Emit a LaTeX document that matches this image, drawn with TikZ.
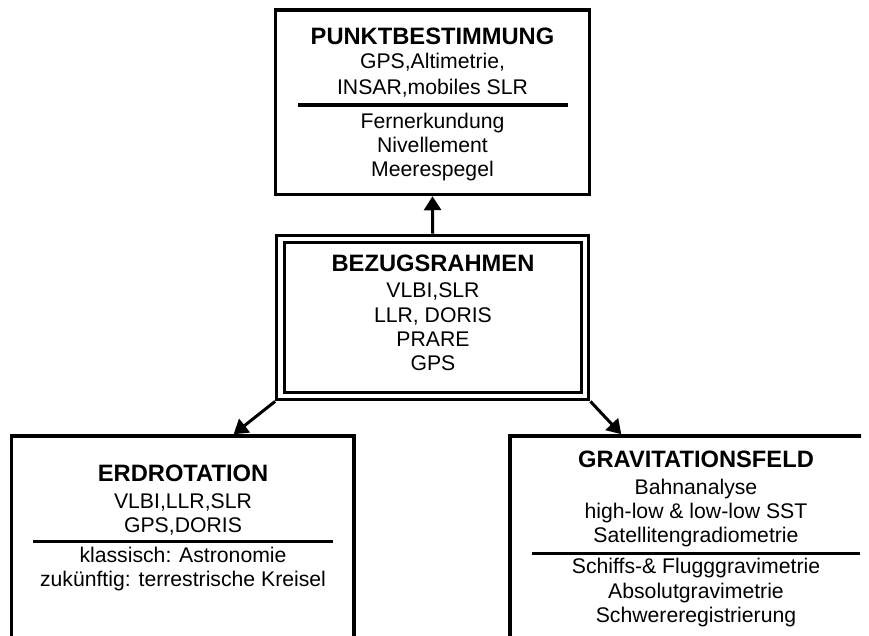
\documentclass[tikz,border=0pt]{standalone}
\usepackage{fontspec}
\setmainfont{Liberation Sans}
\usetikzlibrary{arrows.meta,calc}

\newcommand\kopf[1]{{\fontsize{11.85}{12.2}\selectfont\bfseries #1}}

\begin{document}
\begin{tikzpicture}[x=0.5pt,y=-0.5pt,
	box/.style={draw, line width=1.75pt, inner sep=0pt, outer sep=0.875pt},
	frame/.style={draw, line width=1.6pt, double=white, double distance=2.2pt, inner sep=0pt, outer sep=2.7pt},
	txt/.style={align=center, inner sep=0pt, font=\fontsize{10.6}{12.2}\selectfont},
	sep/.style={line width=1.9pt},
	link/.style={line width=1.5pt, -{Triangle[length=7pt,width=8.5pt]}}]
				% page
				\useasboundingbox (0,0) rectangle (869,636);

				% Boxes
				\node[box, minimum width=157pt, minimum height=92.25pt] (pb) at (432.5,102.25) {};
				\node[frame, minimum width=152.25pt, minimum height=78.5pt] (bez) at (432.75,317.5) {};
				\begin{scope}
				\clip (0,0) rectangle (861,636);
				\node[box, minimum width=171.25pt, minimum height=132pt] (erd) at (182.75,568) {};
				\node[box, minimum width=186pt, minimum height=132pt] (grav) at (696,568) {};
				\draw[sep] (532,553.5) -- (860,553.5);
				\end{scope}
				\draw[sep] (298,105) -- (568,105);
				\draw[sep] (33,541.5) -- (333,541.5);

				% Texts (anchored at the baseline of the last line)
				\node[txt, anchor=base] (pbup) at (432.5,95) {\kopf{PUNKTBESTIMMUNG}\\ GPS,Altimetrie,\\[1pt] INSAR,mobiles SLR};
				\node[txt, anchor=base] (pblow) at (432.5,177) {Fernerkundung\\ Nivellement\\ Meerespegel};
				\node[txt, anchor=base] (bezup) at (433,371) {\kopf{BEZUGSRAHMEN}\\[1pt] VLBI,SLR\\ LLR, DORIS\\ PRARE\\ GPS};
				\node[txt, anchor=base] (erdup) at (183,532.7) {\kopf{ERDROTATION}\\[1pt] VLBI,LLR,SLR\\ GPS,DORIS};
				\node[txt, anchor=base] (erdlow) at (183,586.7) {klassisch: Astronomie\\ zukünftig: terrestrische Kreisel};
				\node[txt, anchor=base] (gravup) at (696,543) {\kopf{GRAVITATIONSFELD}\\[1pt] Bahnanalyse\\ high-low \& low-low SST\\ Satellitengradiometrie};
				\node[txt, anchor=base] (gravlow) at (696,622.7) {Schiffs-\& Flugggravimetrie\\ Absolutgravimetrie\\ Schwereregistrierung};

				% Arrows
				\draw[link] (bez.north) -- (pb.south);
				\draw[link] (bez.south west) -- ($(erd.north west)!0.647!(erd.north east)$);
				\draw[link] (bez.south east) -- ($(grav.north west)!0.301!(grav.north east)$);
\end{tikzpicture}
\end{document}
